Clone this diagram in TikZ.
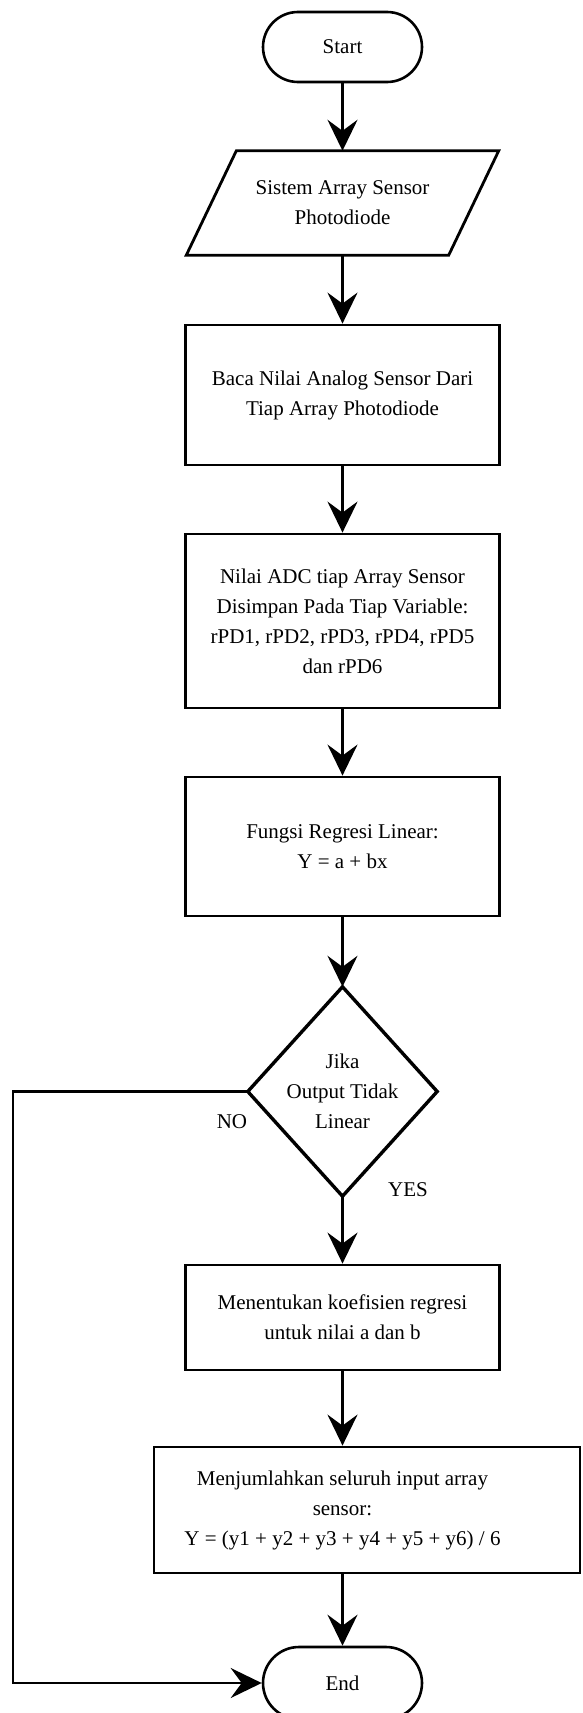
\documentclass[tikz,border=0pt]{standalone}
\usepackage{fontspec}
\setmainfont{Liberation Serif}
\usetikzlibrary{arrows.meta,calc}
\tikzset{
  lbl/.style={font=\fontsize{21pt}{30pt}\selectfont, align=center, inner sep=0pt},
  procbox/.style={lbl, draw, line width=2.8pt, minimum width=314pt},
  term/.style={lbl, draw, line width=2.6pt, rounded corners=35pt, minimum width=159pt, minimum height=70pt},
  hidden/.style={lbl, draw=none},
  conn/.style={line width=2.5pt, -{Stealth[length=31pt,width=30pt,inset=11pt]}},
  outline/.style={line width=2.8pt, line join=miter},
}
\begin{document}
\begin{tikzpicture}[x=1pt,y=-1pt]
\useasboundingbox (0,0) rectangle (582,1713);
\fill[white] (0,0) rectangle (582,1713);

\node[term] (start) at (342.5,47) {Start};
\node[hidden, minimum width=312pt, minimum height=104pt] (inp) at (342.5,203) {Sistem Array Sensor\\Photodiode};
\draw[outline] (inp.south west) -- ($(inp.north west)+(50,0)$) -- (inp.north east) -- ($(inp.south east)+(-50,0)$) -- cycle;

\node[procbox, minimum height=140pt] (b1) at (342.5,395) {Baca Nilai Analog Sensor Dari\\Tiap Array Photodiode};
\node[procbox, minimum height=174pt] (b2) at (342.5,621) {Nilai ADC tiap Array Sensor\\Disimpan Pada Tiap Variable:\\rPD1, rPD2, rPD3, rPD4, rPD5\\dan rPD6};
\node[procbox, minimum height=139pt] (b3) at (342.5,846.5) {Fungsi Regresi Linear:\\Y = a + bx};

\node[hidden, minimum width=189pt, minimum height=209pt] (dec) at (342.5,1091.5) {Jika\\Output Tidak\\Linear};
\draw[line width=3.4pt, line join=miter] (dec.north) -- (dec.east) -- (dec.south) -- (dec.west) -- cycle;

\node[procbox, minimum height=105pt] (b4) at (342.5,1317.5) {Menentukan koefisien regresi\\untuk nilai a dan b};
\node[procbox, minimum width=426pt, minimum height=126pt] (b5) at (367,1510) {};
\node[hidden] (b5t) at (342.5,1510) {Menjumlahkan seluruh input array\\sensor:\\Y = (y1 + y2 + y3 + y4 + y5 + y6) / 6};

\node[term, minimum height=72pt, rounded corners=36pt] (end) at (342.5,1683) {End};

\node[hidden] (no) at (232,1122) {NO};
\node[hidden] (yes) at (408,1190) {YES};

\coordinate (lp) at (13,1091.5);

\draw[conn] (start) -- (inp.north);
\draw[conn] (inp.south) -- (b1);
\draw[conn] (b1) -- (b2);
\draw[conn] (b2) -- (b3);
\draw[conn] (b3) -- (dec.north);
\draw[conn] (dec.south) -- (b4);
\draw[conn] (b4.south) -- (b4.south |- b5.north);
\draw[conn] (b4.south |- b5.south) -- (end);
\draw[conn] (dec.west) -- (lp) |- (end.west);
\end{tikzpicture}
\end{document}
